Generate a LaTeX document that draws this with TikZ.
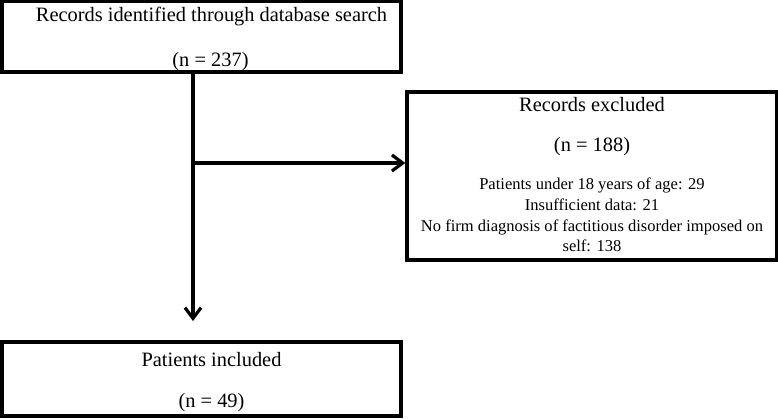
\documentclass[tikz,border=0pt]{standalone}
\usepackage{fontspec}
\setmainfont{Liberation Serif}
\usetikzlibrary{arrows.meta}

\tikzset{
  box/.style={draw, line width=2.6pt, inner sep=0pt},
  big/.style={font=\fontsize{15.3}{18}\selectfont},
  small/.style={font=\fontsize{12.4}{15.5}\selectfont, align=center},
  flow/.style={line width=2.4pt, -{Straight Barb[length=8pt,width=12pt,line width=2.4pt]}},
}

\begin{document}
\begin{tikzpicture}[x=0.75pt, y=-0.75pt]
  \useasboundingbox (0,0) rectangle (778,418);

  % boxes
  \node[box, minimum width=299.25pt, minimum height=53.25pt] (search) at (201.5,36.5) {};
  \node[box, minimum width=277.5pt, minimum height=126pt] (excl) at (592,176) {};
  \node[box, minimum width=299.25pt, minimum height=55.5pt] (incl) at (201.5,379) {};

  % texts
  \node[big] (searchtxt) at (211.5,17) {Records identified through database search};
  \node[big] (searchn) at (210.5,62) {(n = 237)};
  \node[big] (excltxt) at (592,105) {Records excluded};
  \node[big] (excln) at (592,147) {(n = 188)};
  \node[small] (reasons) at (592,215) {Patients under 18 years of age: 29\\
    Insufficient data: 21\\
    No firm diagnosis of factitious disorder imposed on\\
    self: 138};
  \node[big] (incltxt) at (211.5,360) {Patients included};
  \node[big] (incln) at (211.5,403) {(n = 49)};

  % connectors
  \coordinate (split) at (193,163);
  \coordinate (stop) at (193,321);
  \draw[flow] (split |- search.south) -- (stop);
  \draw[flow] (split) -- (split -| excl.west);
\end{tikzpicture}
\end{document}
